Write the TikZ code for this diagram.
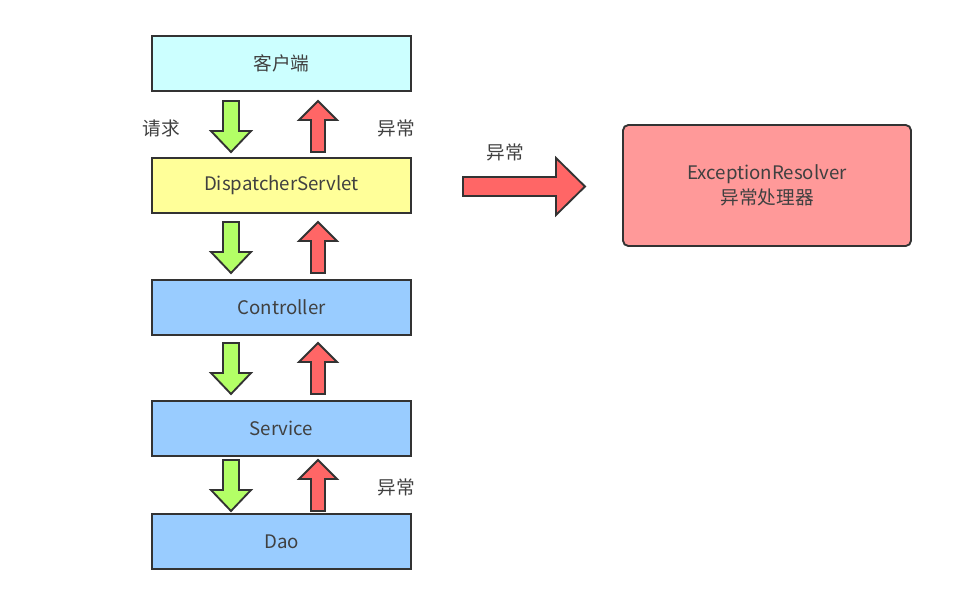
\documentclass[tikz,border=0pt]{standalone}
\usepackage{fontspec}
\setmainfont{Noto Sans CJK SC}
\begin{document}
\begin{tikzpicture}[x=0.75pt,y=-0.75pt,
  box/.style={draw=black!80,line width=1.4pt,minimum width=259*0.75pt,minimum height=55*0.75pt,inner sep=0pt,text=black!75,font=\fontsize{14}{19}\selectfont},
  lbl/.style={text=black!75,font=\fontsize{14}{17}\selectfont},
  down/.style={draw=black!80,line width=1.4pt,line join=miter},
  up/.style={draw=black!80,line width=1.4pt,line join=miter}]
\definecolor{cyanbox}{HTML}{CCFFFF}
\definecolor{yellowbox}{HTML}{FFFF99}
\definecolor{bluebox}{HTML}{99CCFF}
\definecolor{pinkbox}{HTML}{FF9999}
\definecolor{greenarrow}{HTML}{B3FF66}
\definecolor{redarrow}{HTML}{FF6666}
\useasboundingbox (0,0) rectangle (954,603);
\node[box,fill=cyanbox] (client) at (281.5,63.5) {客户端};
\node[box,fill=yellowbox] (ds) at (281.5,185.5) {DispatcherServlet};
\node[box,fill=bluebox] (ctrl) at (281.5,307.5) {Controller};
\node[box,fill=bluebox] (svc) at (281.5,428.5) {Service};
\node[box,fill=bluebox] (dao) at (281.5,541.5) {Dao};
\node[box,fill=pinkbox,rounded corners=4pt,minimum width=288*0.75pt,minimum height=121*0.75pt,align=center] (er) at (767,185.5) {ExceptionResolver\\异常处理器};
% down (green) and up (red) block arrows between layers
\foreach \t/\b in {101/152, 222/273, 343/394, 460/511}{
  \draw[down,fill=greenarrow] (223,\t) -- (239,\t) -- (239,\b-21) -- (251,\b-21) -- (231,\b) -- (211,\b-21) -- (223,\b-21) -- cycle;
  \draw[up,fill=redarrow] (311,\b) -- (325,\b) -- (325,\t+19) -- (337,\t+19) -- (318,\t) -- (299,\t+19) -- (311,\t+19) -- cycle;
}
% big right arrow
\draw[up,fill=redarrow] (463,177) -- (556,177) -- (556,158) -- (585,186.5) -- (556,215) -- (556,196) -- (463,196) -- cycle;
\node[lbl] (req) at (161,128) {请求};
\node[lbl] (ex1) at (396,128) {异常};
\node[lbl] (ex2) at (505,152) {异常};
\node[lbl] (ex3) at (396,487) {异常};
\end{tikzpicture}
\end{document}
